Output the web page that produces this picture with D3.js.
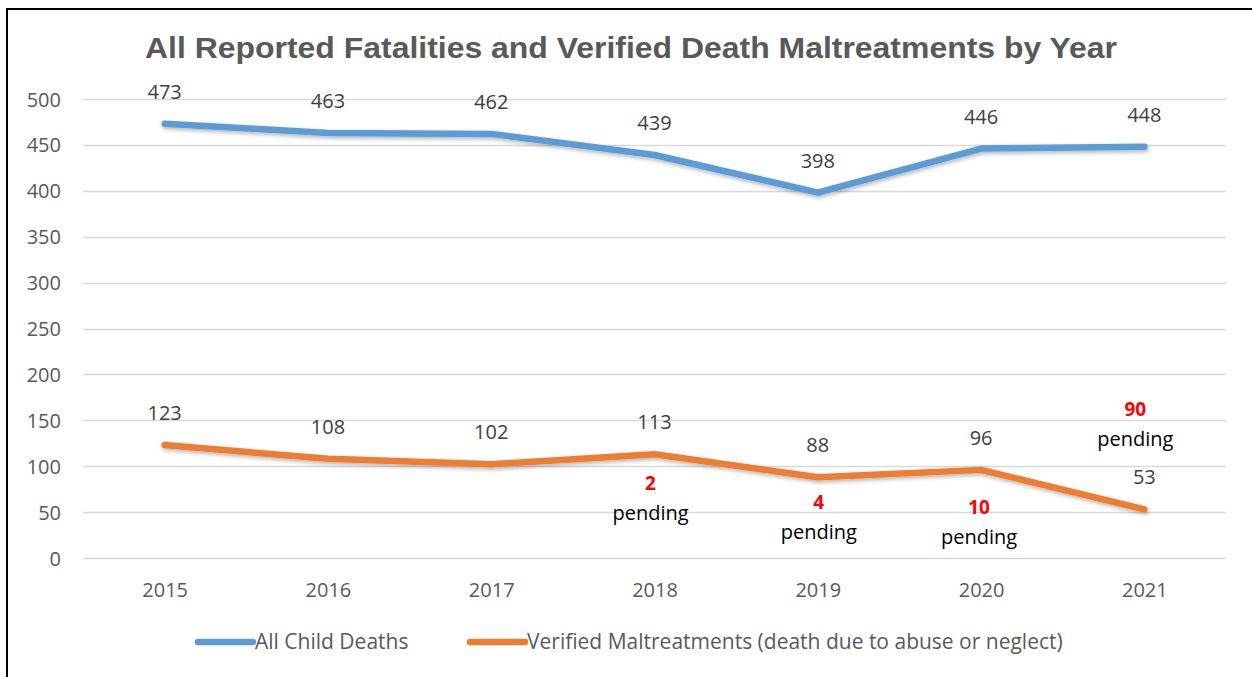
<!DOCTYPE html>
<html lang="en">
<head>
    <meta charset="UTF-8">
    <title>All Reported Fatalities and Verified Death Maltreatments by Year</title>
    <script src="https://cdn.jsdelivr.net/npm/d3@7/dist/d3.min.js"></script>
</head>
<style>
    body { margin: 0; background: #fff; }
    .tick-label { font-family: "Open Sans", sans-serif; font-size: 20px; fill: #595959; }
    .legend-label { font-family: "Open Sans", sans-serif; font-size: 21px; fill: #595959; }
    .val { font-family: "Open Sans", sans-serif; font-size: 20px; fill: #404040; text-anchor: middle; }
    .grid line { stroke: #d9d9d9; stroke-width: 1.5; }
</style>
<body>
<script>
    var width = 1252;
    var height = 677;

    // data
    var years = ['2015', '2016', '2017', '2018', '2019', '2020', '2021'];
    var allDeaths = [473, 463, 462, 439, 398, 446, 448];
    var verified = [123, 108, 102, 113, 88, 96, 53];
    var yTicks = [0, 50, 100, 150, 200, 250, 300, 350, 400, 450, 500];
    var pendingYears = ['2018', '2019', '2020', '2021'];
    var pendingCounts = [2, 4, 10, 90];
    var seriesNames = ['All Child Deaths', 'Verified Maltreatments (death due to abuse or neglect)'];
    var colors = ['#5b9bd5', '#ed7d31'];

    // where each pending note sits, relative to the orange point (px)
    var noteDy = [29, 25, 37, -100];
    var noteDx = [-4, 1, -2, -9];

    var padding = {left: 83, right: 26, top: 99, bottom: 119};

    var svg = d3.select('body')
        .append('svg')
        .attr('width', width)
        .attr('height', height)

    var defs = svg.append('defs');
    var f = defs.append('filter').attr('id', 'shadow')
        .attr('x', '-5%').attr('y', '-20%').attr('width', '110%').attr('height', '140%');
    f.append('feDropShadow').attr('dx', 1).attr('dy', 2).attr('stdDeviation', 2)
        .attr('flood-color', '#000').attr('flood-opacity', 0.3);

    // outer frame
    svg.append('rect')
        .attr('x', 7).attr('y', 9)
        .attr('width', 1260).attr('height', 700)
        .attr('fill', 'none').attr('stroke', '#000').attr('stroke-width', 2)

    svg.append('text')
        .attr('x', 631).attr('y', 58)
        .attr('text-anchor', 'middle')
        .attr('textLength', 972)
        .attr('lengthAdjust', 'spacingAndGlyphs')
        .style('font-family', '"Liberation Sans", Arial, sans-serif')
        .style('font-weight', 'bold')
        .style('font-size', '30px')
        .style('fill', '#595959')
        .text('All Reported Fatalities and Verified Death Maltreatments by Year')

    var xScale = d3.scalePoint()
        .domain(years)
        .range([padding.left, width - padding.right])
        .padding(0.5)

    var yScale = d3.scaleLinear()
        .domain([0, 500])
        .range([height - padding.bottom, padding.top])

    // gridlines
    svg.append('g')
        .attr('class', 'grid')
        .selectAll('line')
        .data(yTicks)
        .enter()
        .append('line')
        .attr('x1', padding.left)
        .attr('x2', width - padding.right)
        .attr('y1', function (d) { return Math.round(yScale(d)) + 0.5 })
        .attr('y2', function (d) { return Math.round(yScale(d)) + 0.5 })

    var yAxis = d3.axisLeft(yScale).tickValues(yTicks).tickSize(0).tickPadding(0)
    var gy = svg.append('g')
        .attr('transform', 'translate(61,0)')
        .call(yAxis)
    gy.select('.domain').remove()
    gy.selectAll('text').attr('class', 'tick-label').attr('dy', '0.35em')

    var xAxis = d3.axisBottom(xScale).tickSize(0).tickPadding(0)
    var gx = svg.append('g')
        .attr('transform', 'translate(0,' + 576 + ')')
        .call(xAxis)
    gx.select('.domain').remove()
    gx.selectAll('text').attr('class', 'tick-label').attr('dy', '0.35em').attr('y', 14)

    var series = [allDeaths, verified];

    var line = d3.line()
        .x(function (d, i) { return xScale(years[i]) })
        .y(function (d) { return yScale(d) })

    svg.selectAll('.series')
        .data(series)
        .enter()
        .append('path')
        .attr('class', 'series')
        .attr('d', line)
        .attr('fill', 'none')
        .attr('stroke', function (d, i) { return colors[i] })
        .attr('stroke-width', 6.5)
        .attr('stroke-linecap', 'round')
        .attr('stroke-linejoin', 'round')
        .attr('filter', 'url(#shadow)')

    series.forEach(function (s) {
        svg.append('g')
            .selectAll('text')
            .data(s)
            .enter()
            .append('text')
            .attr('class', 'val')
            .attr('x', function (d, i) { return xScale(years[i]) })
            .attr('y', function (d) { return yScale(d) - 32 })
            .attr('dy', '0.35em')
            .text(function (d) { return d })
    })

    // pending notes
    var notes = svg.append('g')
        .selectAll('g')
        .data(pendingYears)
        .enter()
        .append('g')
        .attr('transform', function (d, i) {
            var v = verified[years.indexOf(d)];
            return 'translate(' + (xScale(d) + noteDx[i]) + ',' + (yScale(v) + noteDy[i]) + ')'
        })
    notes.append('text')
        .attr('text-anchor', 'middle')
        .attr('dy', '0.35em')
        .style('font-family', '"Open Sans", sans-serif')
        .style('font-weight', 'bold')
        .style('font-size', '19px')
        .style('fill', '#ff0000')
        .text(function (d, i) { return pendingCounts[i] })
    notes.append('text')
        .attr('text-anchor', 'middle')
        .attr('y', 30)
        .attr('dy', '0.35em')
        .style('font-family', '"Open Sans", sans-serif')
        .style('font-size', '20px')
        .style('fill', '#000')
        .text('pending')

    // legend
    var legendX = [198, 470];
    var legend = svg.append('g')
        .selectAll('g')
        .data(seriesNames)
        .enter()
        .append('g')
        .attr('transform', function (d, i) { return 'translate(' + legendX[i] + ',642)' })
    legend.append('line')
        .attr('x1', 0).attr('x2', 55)
        .attr('stroke', function (d, i) { return colors[i] })
        .attr('stroke-width', 6.5)
        .attr('stroke-linecap', 'round')
    legend.append('text')
        .attr('x', 57)
        .attr('dy', '0.35em')
        .attr('class', 'legend-label')
        .text(function (d) { return d })
</script>

</body>
</html>
